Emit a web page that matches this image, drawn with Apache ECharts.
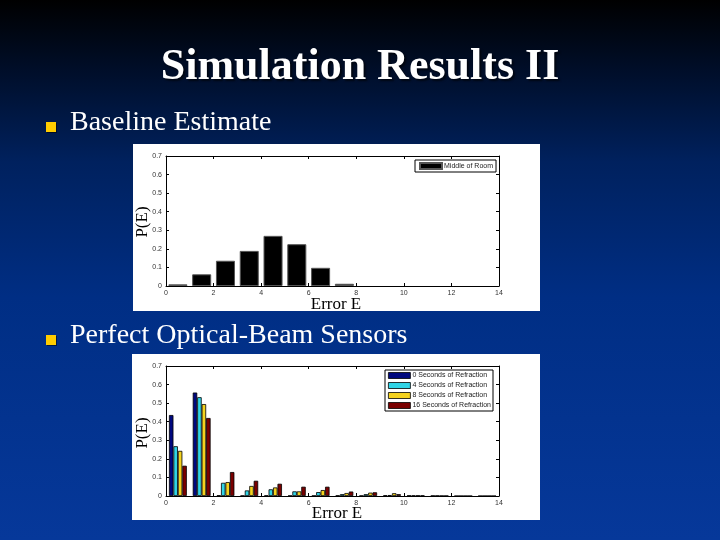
<!DOCTYPE html>
<html>
<head>
<meta charset="utf-8">
<script src="https://cdn.jsdelivr.net/npm/echarts@6/dist/echarts.min.js"></script>
<style>
html,body{margin:0;padding:0;width:720px;height:540px;overflow:hidden;}
#c{width:720px;height:540px;}
</style>
</head>
<body>
<div id="c"></div>
<script>
// ---- data ----
const binCenters = [0.5, 1.5, 2.5, 3.5, 4.5, 5.5, 6.5, 7.5, 8.5, 9.5, 10.5, 11.5, 12.5, 13.5];
const baselineName = 'Middle of Room';
const baselineValues = [0.009, 0.063, 0.136, 0.189, 0.270, 0.225, 0.098, 0.012];
const refractionNames = ['0 Seconds of Refraction', '4 Seconds of Refraction', '8 Seconds of Refraction', '16 Seconds of Refraction'];
const refr0 = [0.436, 0.557, 0.004, 0.002, 0.003, 0.002, 0.002, 0.003, 0.002, 0.004, 0.003, 0.002, 0, 0];
const refr4 = [0.268, 0.532, 0.071, 0.030, 0.036, 0.025, 0.021, 0.010, 0.010, 0.005, 0.003, 0.002, 0, 0];
const refr8 = [0.243, 0.495, 0.075, 0.054, 0.046, 0.025, 0.032, 0.016, 0.018, 0.015, 0.003, 0.001, 0, 0];
const refr16 = [0.163, 0.420, 0.129, 0.082, 0.066, 0.050, 0.050, 0.024, 0.020, 0.010, 0.003, 0.001, 0, 0];
const refrValues = [refr0, refr4, refr8, refr16];
const refrColors = ['#00087e', '#30d4e6', '#f4d21e', '#7a0000'];
const titleText = 'Simulation Results II';
const bullet1 = 'Baseline Estimate';
const bullet2 = 'Perfect Optical-Beam Sensors';
const yLabel = 'P(E)';
const xLabel = 'Error E';

const chart = echarts.init(document.getElementById('c'), null, {renderer: 'canvas'});

const grids = [
  {left: 166, top: 156, width: 333, height: 130},
  {left: 166, top: 366, width: 333, height: 130}
];

const lineStyle = {show: true, onZero: false, lineStyle: {color: '#000', width: 1}};
const tickStyle = {show: true, inside: true, length: 3, lineStyle: {color: '#000'}};
const labelStyle = {show: true, fontSize: 7, color: '#333', margin: 4, fontFamily: 'Liberation Sans'};

function xAxes(gi) {
  return [
    {type: 'value', gridIndex: gi, min: 0, max: 14, interval: 2, position: 'bottom',
     axisLine: lineStyle, axisTick: tickStyle, axisLabel: labelStyle, splitLine: {show: false}},
    {type: 'value', gridIndex: gi, min: 0, max: 14, interval: 2, position: 'top',
     axisLine: lineStyle, axisTick: tickStyle, axisLabel: {show: false}, splitLine: {show: false}}
  ];
}
function yAxes(gi) {
  return [
    {type: 'value', gridIndex: gi, min: 0, max: 0.7, interval: 0.1, position: 'left',
     axisLine: lineStyle, axisTick: tickStyle, axisLabel: labelStyle, splitLine: {show: false}},
    {type: 'value', gridIndex: gi, min: 0, max: 0.7, interval: 0.1, position: 'right',
     axisLine: lineStyle, axisTick: tickStyle, axisLabel: {show: false}, splitLine: {show: false}}
  ];
}

const series = [{
  name: baselineName, type: 'bar', xAxisIndex: 0, yAxisIndex: 0,
  data: baselineValues.map((v, i) => [binCenters[i], v]),
  barCategoryGap: '20%',
  itemStyle: {color: '#000', borderColor: '#555', borderWidth: 1},
  silent: true
}];
refrValues.forEach((vals, k) => {
  series.push({
    name: refractionNames[k], type: 'bar', xAxisIndex: 2, yAxisIndex: 2,
    data: vals.map((v, i) => [binCenters[i], v]),
    barCategoryGap: '25%', barGap: '0%',
    itemStyle: {color: refrColors[k], borderColor: '#000', borderWidth: 0.8},
    silent: true
  });
});

const serif = '"Liberation Serif", "Times New Roman", serif';

chart.setOption({
  animation: false,
  backgroundColor: {
    type: 'linear', x: 0, y: 0, x2: 0, y2: 1,
    colorStops: [
      {offset: 0, color: '#000000'},
      {offset: 0.12, color: '#000d26'},
      {offset: 0.3, color: '#00215e'},
      {offset: 0.55, color: '#002e84'},
      {offset: 1, color: '#06389a'}
    ]
  },
  grid: grids,
  xAxis: xAxes(0).concat(xAxes(1)),
  yAxis: yAxes(0).concat(yAxes(1)),
  legend: [
    {data: [baselineName], left: 415, top: 160, orient: 'vertical',
     icon: 'rect', itemWidth: 22, itemHeight: 6, itemGap: 2,
     padding: [2, 3, 2, 4], borderColor: '#000', borderWidth: 1, backgroundColor: '#fff',
     selectedMode: false,
     textStyle: {fontSize: 7, color: '#222', fontFamily: 'Liberation Sans', padding: [0, 0, 0, -3]}},
    {data: refractionNames, left: 385, top: 370, orient: 'vertical',
     icon: 'rect', itemWidth: 22, itemHeight: 6, itemGap: 3,
     padding: [2, 2, 2, 3], borderColor: '#000', borderWidth: 1, backgroundColor: '#fff',
     selectedMode: false,
     itemStyle: {borderColor: '#000', borderWidth: 0.8},
     textStyle: {fontSize: 7, color: '#222', fontFamily: 'Liberation Sans', padding: [0, 0, 0, -3]}}
  ],
  graphic: [
    {type: 'rect', z: -10, silent: true, shape: {x: 133, y: 144, width: 407, height: 167}, style: {fill: '#fff'}},
    {type: 'rect', z: -10, silent: true, shape: {x: 132, y: 354, width: 408, height: 166}, style: {fill: '#fff'}},
    {type: 'text', silent: true, x: 360, y: 68,
     style: {text: titleText, font: 'bold 44px ' + serif, fill: '#fff', align: 'center', verticalAlign: 'middle',
             textShadowColor: 'rgba(0,0,0,0.6)', textShadowOffsetX: 2, textShadowOffsetY: 2, textShadowBlur: 2}},
    {type: 'rect', silent: true, shape: {x: 46, y: 122, width: 10, height: 10},
     style: {fill: '#ffcc00', shadowColor: 'rgba(0,0,0,0.5)', shadowOffsetX: 1, shadowOffsetY: 1}},
    {type: 'text', silent: true, x: 70, y: 123,
     style: {text: bullet1, font: '28px ' + serif, fill: '#fff', align: 'left', verticalAlign: 'middle'}},
    {type: 'rect', silent: true, shape: {x: 46, y: 335, width: 10, height: 10},
     style: {fill: '#ffcc00', shadowColor: 'rgba(0,0,0,0.5)', shadowOffsetX: 1, shadowOffsetY: 1}},
    {type: 'text', silent: true, x: 70, y: 336,
     style: {text: bullet2, font: '28px ' + serif, fill: '#fff', align: 'left', verticalAlign: 'middle'}},
    {type: 'text', silent: true, x: 143, y: 222, rotation: Math.PI / 2,
     style: {text: yLabel, font: '17px ' + serif, fill: '#000', align: 'center', verticalAlign: 'middle'}},
    {type: 'text', silent: true, x: 143, y: 433, rotation: Math.PI / 2,
     style: {text: yLabel, font: '17px ' + serif, fill: '#000', align: 'center', verticalAlign: 'middle'}},
    {type: 'text', silent: true, x: 336, y: 305,
     style: {text: xLabel, font: '17px ' + serif, fill: '#000', align: 'center', verticalAlign: 'middle'}},
    {type: 'text', silent: true, x: 337, y: 514,
     style: {text: xLabel, font: '17px ' + serif, fill: '#000', align: 'center', verticalAlign: 'middle'}}
  ],
  series: series
});
</script>
</body>
</html>
